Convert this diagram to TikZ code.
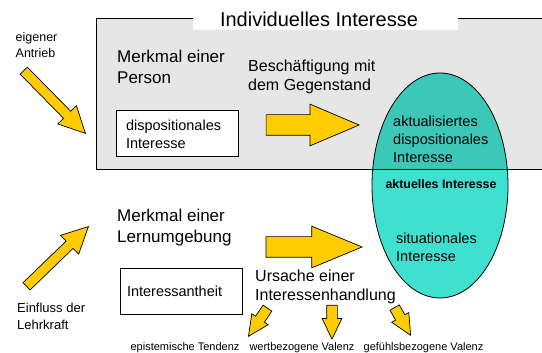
\documentclass[tikz,border=0pt]{standalone}
\usepackage{fontspec}
\setmainfont{Liberation Sans}
\usetikzlibrary{shapes.geometric,shapes.arrows}

\definecolor{boxgray}{HTML}{E6E6E6}
\definecolor{arrowyellow}{HTML}{FFCC00}
\definecolor{tealtop}{HTML}{3CC8B8}
\definecolor{tealbottom}{HTML}{40E0D0}

\begin{document}
\begin{tikzpicture}[x=1pt,y=-1pt,
		label text/.style={anchor=west,align=left,inner sep=0pt},
		big text/.style={label text,font=\fontsize{17}{21}\selectfont},
		mid text/.style={label text,font=\fontsize{14.5}{18}\selectfont},
		small text/.style={label text,font=\fontsize{12.5}{16}\selectfont},
		foot text/.style={anchor=base,inner sep=0pt,font=\fontsize{11}{13}\selectfont},
		frame box/.style={rectangle,draw,line width=1pt,fill=white,align=left,
			minimum width=122pt,minimum height=46pt,font=\fontsize{14.5}{18}\selectfont},
		yellow arrow/.style={single arrow,draw,line width=0.7pt,fill=arrowyellow,
			inner xsep=0pt,anchor=tip,single arrow head indent=0pt},
		big arrow/.style={yellow arrow,inner ysep=10pt,single arrow head extend=10.5pt,single arrow tip angle=46},
		slim arrow/.style={yellow arrow,inner ysep=4.7pt,single arrow head extend=8pt,single arrow tip angle=53},
		tiny arrow/.style={yellow arrow,inner ysep=5pt,single arrow head extend=4.5pt,single arrow tip angle=51}]
		
		\useasboundingbox (0,0) rectangle (542,353);
		
		% grauer Kasten
		\fill[boxgray] (96,18.5) rectangle (550,170);
		
		\node[ellipse,draw,line width=0.8pt,inner sep=0pt,minimum width=136pt,minimum height=225pt,
			fill=tealbottom,path picture={\fill[tealtop] (path picture bounding box.north west)
			rectangle ([yshift=15.5pt]path picture bounding box.east);}] (interesse) at (440,185.5) {};
		
		\draw[line width=1pt] (550,18.5) -- (96,18.5) -- (96,170) -- (550,170);
		\fill[white] (193,-5) rectangle (458,30);
		\node[anchor=base,inner sep=0pt,font=\fontsize{20}{24}\selectfont] (titel) at (319,27) {Individuelles Interesse};
		
		\node[small text] (antrieb) at (15.5,45) {eigener\\Antrieb};
		\node[big text] (person) at (117,67) {Merkmal einer\\Person};
		\node[frame box,text width=102pt,inner xsep=10pt] (dispo) at (177,134) {dispositionales\\Interesse};
		\node[big text,font=\fontsize{16}{19}\selectfont] (besch) at (248,77) {Beschäftigung mit\\dem Gegenstand};
		\node[mid text] (aktualisiert) at (393,139) {aktualisiertes\\dispositionales\\Interesse};
		\node[inner sep=0pt,font=\bfseries\fontsize{12.4}{15}\selectfont] (aktuell) at (441,184) {aktuelles Interesse};
		\node[mid text] (situativ) at (396,247) {situationales\\Interesse};
		
		\node[big text] (lern) at (117,228) {Merkmal einer\\Lernumgebung};
		\node[small text,font=\fontsize{13}{17}\selectfont] (lehrkraft) at (17,316.5) {Einfluss der\\Lehrkraft};
		\node[frame box,text width=108pt,inner xsep=7pt] (anteil) at (181,291) {Interessantheit};
		\node[big text,font=\fontsize{16}{19}\selectfont] (ursache) at (255,286.5) {Ursache einer\\Interessenhandlung};
		
		\node[foot text] (tendenz) at (185,350.5) {epistemische Tendenz};
		\node[foot text] (wert) at (302,350.5) {wertbezogene Valenz};
		\node[foot text] (gefuehl) at (423.5,350.5) {gefühlsbezogene Valenz};
		
		% Pfeile
		\node[slim arrow,minimum height=88pt,rotate=-45.5] (p1) at (86,134) {};
		\node[slim arrow,minimum height=86pt,rotate=44] (p2) at (89,226) {};
		\node[big arrow,minimum height=93pt] (p3) at (360,125) {};
		\node[big arrow,minimum height=96pt,single arrow tip angle=45] (p4) at (363,247) {};
		\node[tiny arrow,minimum height=34pt,rotate=-124] (p5) at (248,337) {};
		\node[tiny arrow,minimum height=34pt,rotate=-90] (p6) at (332,340) {};
		\node[tiny arrow,minimum height=32pt,rotate=-60] (p7) at (411,336) {};
\end{tikzpicture}
\end{document}
